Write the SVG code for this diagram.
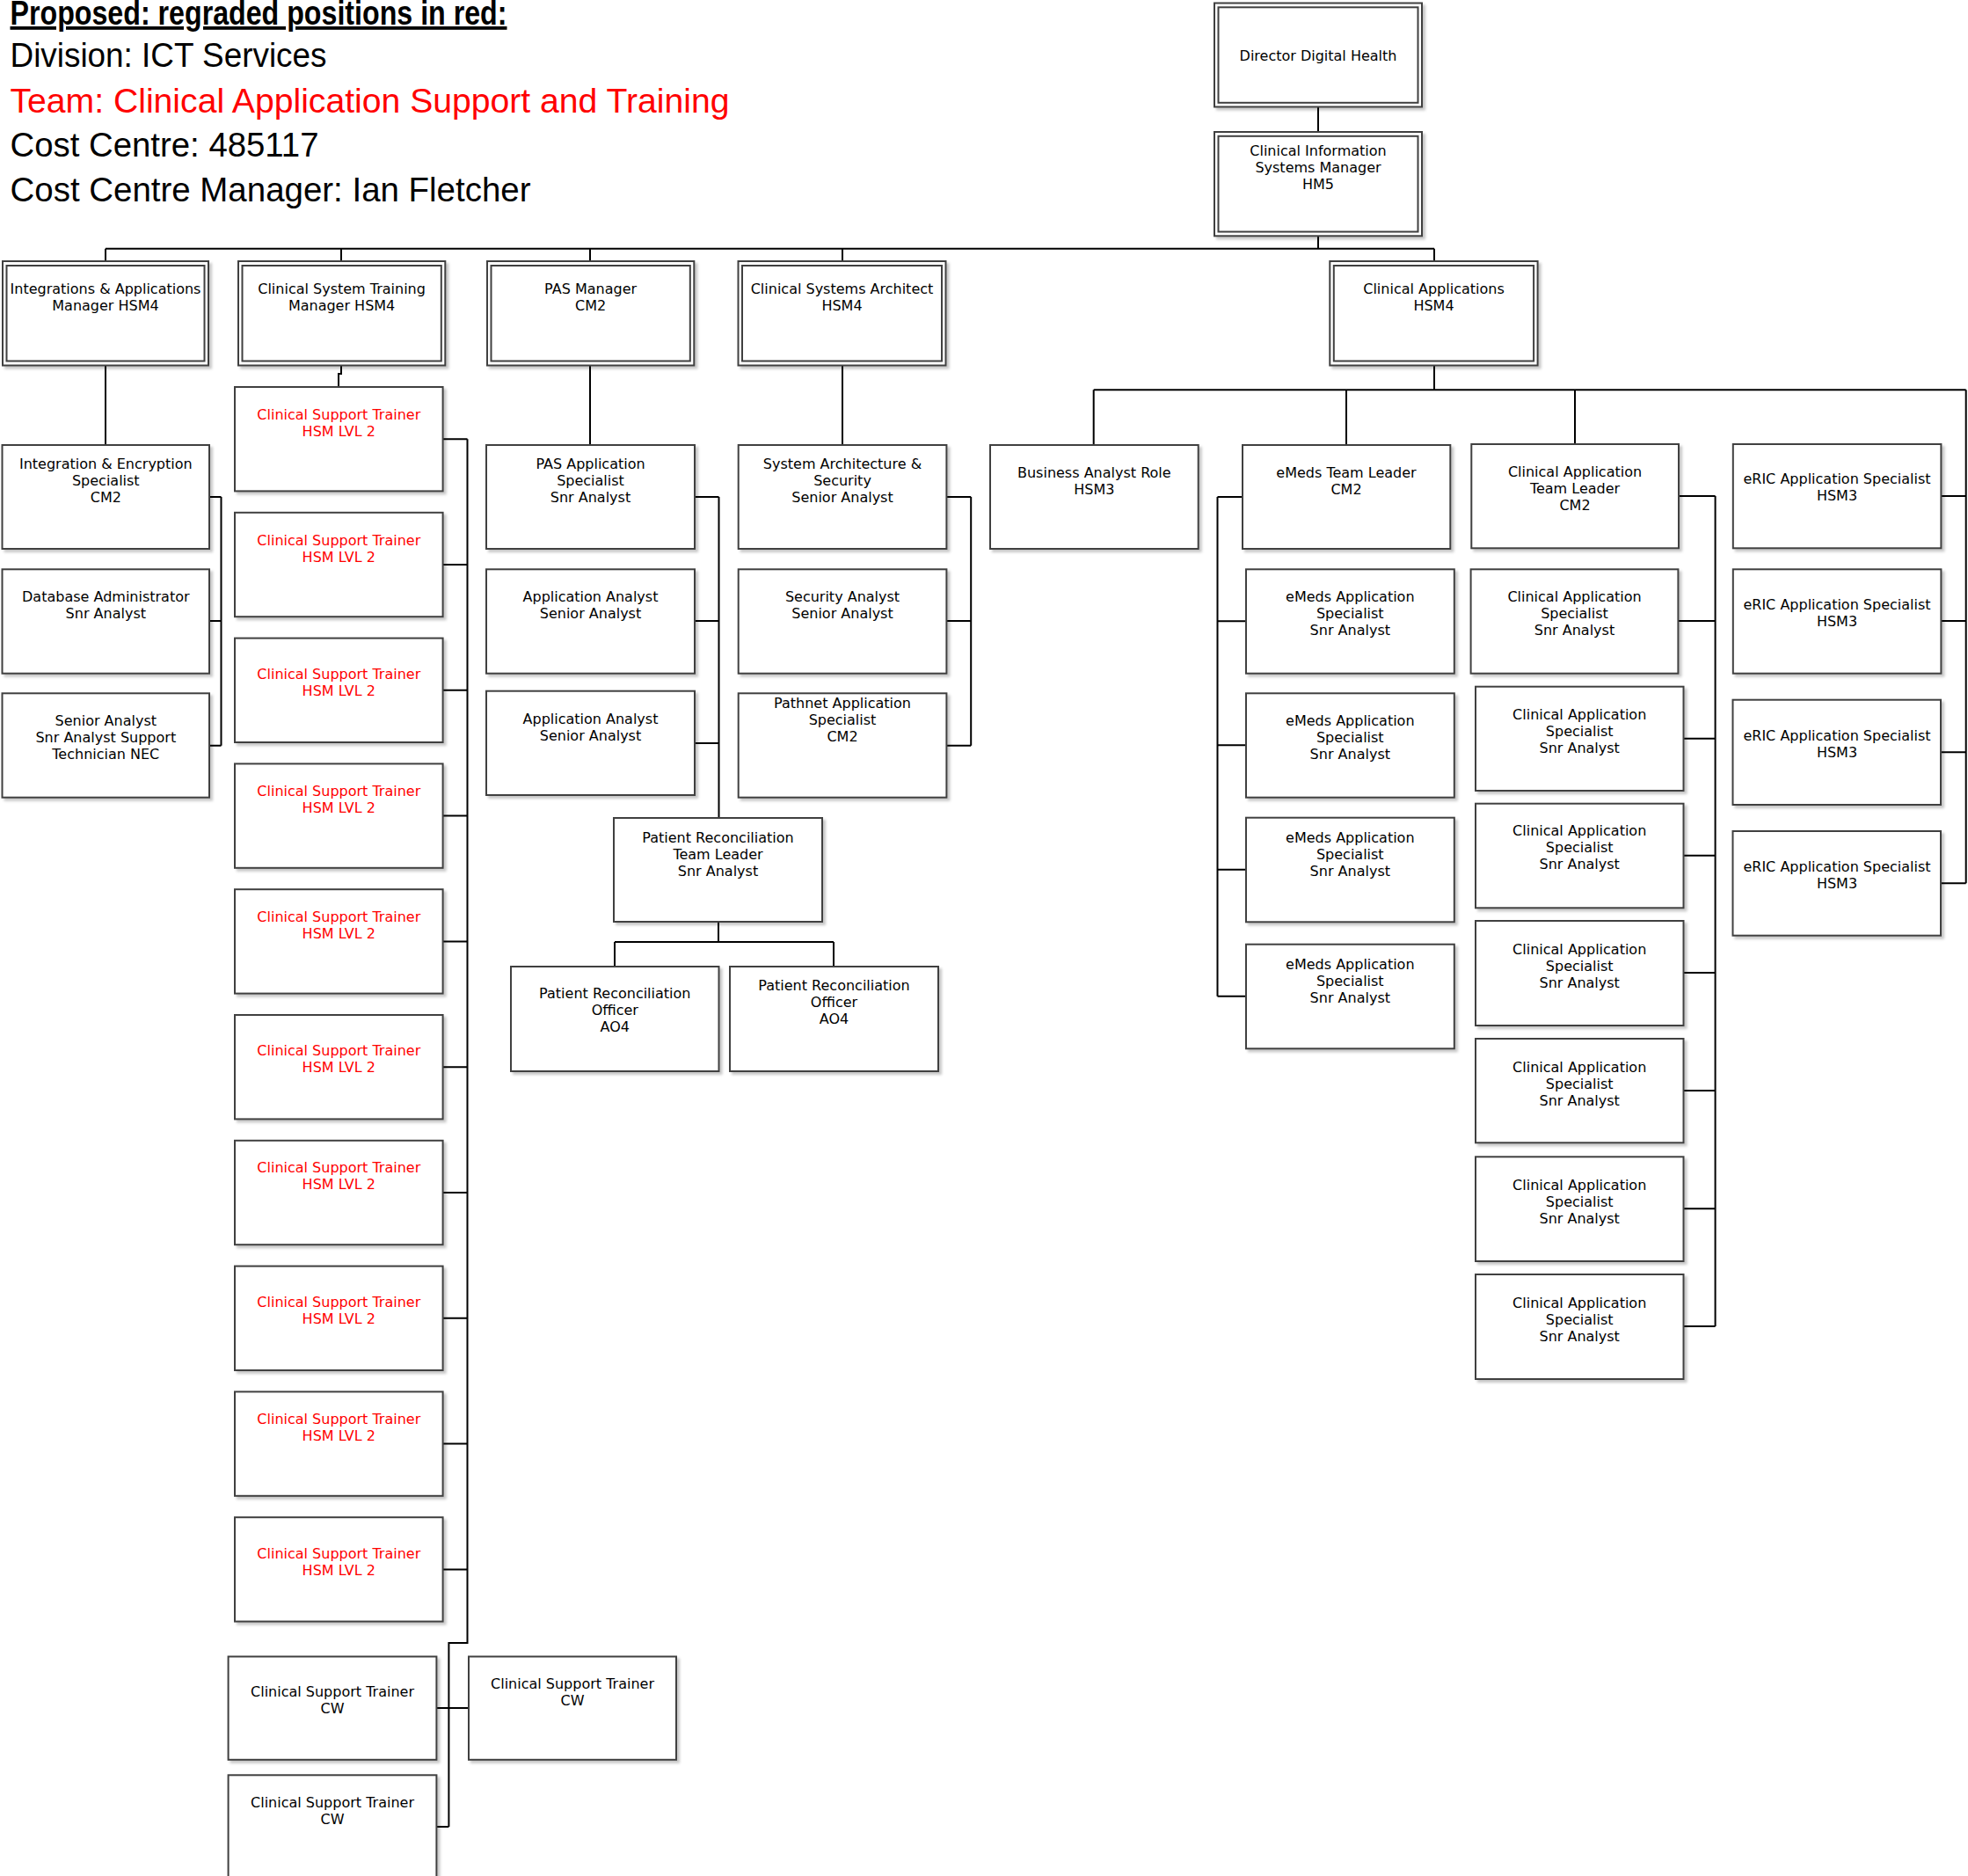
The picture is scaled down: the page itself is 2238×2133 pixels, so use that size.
<svg xmlns="http://www.w3.org/2000/svg" width="2238" height="2133" viewBox="0 0 2238 2133">
<defs>
<filter id="sh" x="-5%" y="-5%" width="115%" height="115%"><feDropShadow dx="3" dy="3" stdDeviation="1.5" flood-color="#000" flood-opacity="0.22"/></filter>
<style>
.bx{fill:#fff;stroke:#404040;stroke-width:2;filter:url(#sh)}
.in{fill:none;stroke:#404040;stroke-width:2}
.t{font-family:"DejaVu Sans",Verdana,sans-serif;font-size:16px;text-anchor:middle;fill:#000}
.r{fill:#ff0000}
.cn{fill:none;stroke:#000;stroke-width:2}
.h{font-family:"Liberation Sans",Arial,sans-serif;font-size:38px;fill:#000}
</style>
</defs>
<rect width="2238" height="2133" fill="#fff"/>
<g id="header">
<text class="h" x="11.5" y="28" font-weight="bold" text-decoration="underline" textLength="565" lengthAdjust="spacingAndGlyphs">Proposed: regraded positions in red:</text>
<text class="h" x="11.5" y="76" textLength="360" lengthAdjust="spacingAndGlyphs">Division: ICT Services</text>
<text class="h" x="11.5" y="127.7" textLength="818" lengthAdjust="spacingAndGlyphs" fill="#ff0000" style="fill:#ff0000">Team: Clinical Application Support and Training</text>
<text class="h" x="11.5" y="178.3" textLength="351" lengthAdjust="spacingAndGlyphs">Cost Centre: 485117</text>
<text class="h" x="11.5" y="229.3" textLength="592" lengthAdjust="spacingAndGlyphs">Cost Centre Manager: Ian Fletcher</text>
</g>
<g id="connectors">
<path class="cn" d="M1499,121.7V150M1499,268.3V282.7M120,282.7H1631M120,282.7V297M388,282.7V297M671,282.7V297M958,282.7V297M1631,282.7V297"/>
<path class="cn" d="M120,416V506M238,565H251.5M238,706H251.5M238,847.7H251.5M251.5,565V847.7"/>
<path class="cn" d="M388,416V425H385V440"/>
<path class="cn" d="M503.6,499.2H531.5M503.6,642H531.5M503.6,784.8H531.5M503.6,927.6H531.5M503.6,1070.4H531.5M503.6,1213.2H531.5M503.6,1356H531.5M503.6,1498.8H531.5M503.6,1641.6H531.5M503.6,1784.4H531.5M531.5,499.2V1868H510.4V2077M496.4,1942H533M496.4,2077H510.4"/>
<path class="cn" d="M671,416V506M790,565H817.5M790,706H817.5M790,845H817.5M817.5,565V930M817,1048V1071M699,1071H948M699,1071V1099M948,1071V1099"/>
<path class="cn" d="M958,416V506M1076.4,565H1104.2M1076.4,706H1104.2M1076.4,847.7H1104.2M1104.2,565V847.7"/>
<path class="cn" d="M1631,416V443.3M1243.7,443.3H2235.7M1243.7,443.3V506M1531,443.3V506M1791,443.3V505M2235.7,443.3V1004.3"/>
<path class="cn" d="M1384.5,565V1132.7M1384.5,565H1413M1384.5,706.3H1417M1384.5,847.3H1417M1384.5,988.7H1417M1384.5,1132.7H1417"/>
<path class="cn" d="M1950.6,564V1508M1909,564H1950.6M1908.4,706H1950.6M1914,839.7H1950.6M1914,972.7H1950.6M1914,1106H1950.6M1914,1240H1950.6M1914,1374.3H1950.6M1914,1508H1950.6"/>
<path class="cn" d="M2207,564H2235.7M2207,706H2235.7M2207,855.3H2235.7M2207,1004.3H2235.7"/>
</g>
<g id="director"><rect class="bx" x="1381" y="3.5" width="236" height="118"/><rect class="in" x="1385.5" y="8.3" width="227" height="108.5"/><text class="t" x="1499" y="68.7">Director Digital Health</text></g>
<g id="cism"><rect class="bx" x="1381" y="150" width="236" height="118.3"/><rect class="in" x="1385.5" y="154.8" width="227" height="108.7"/><text class="t" x="1499" y="176.7"><tspan x="1499">Clinical Information</tspan><tspan x="1499" dy="19.3">Systems Manager</tspan><tspan x="1499" dy="19.3">HM5</tspan></text></g>
<g id="iam"><rect class="bx" x="3" y="297" width="234" height="118.5"/><rect class="in" x="7.5" y="302" width="225" height="108.5"/><text class="t" x="120" y="334"><tspan x="120">Integrations &amp; Applications</tspan><tspan x="120" dy="19">Manager HSM4</tspan></text></g>
<g id="cstm"><rect class="bx" x="271" y="297" width="235.3" height="118.5"/><rect class="in" x="275.5" y="302" width="226.3" height="108.5"/><text class="t" x="388.6" y="334"><tspan x="388.6">Clinical System Training</tspan><tspan x="388.6" dy="19">Manager HSM4</tspan></text></g>
<g id="pasm"><rect class="bx" x="554" y="297" width="235.3" height="118.5"/><rect class="in" x="558.5" y="302" width="226.3" height="108.5"/><text class="t" x="671.6" y="334"><tspan x="671.6">PAS Manager</tspan><tspan x="671.6" dy="19">CM2</tspan></text></g>
<g id="csa"><rect class="bx" x="839.5" y="297" width="236" height="118.5"/><rect class="in" x="844" y="302" width="227" height="108.5"/><text class="t" x="957.5" y="334"><tspan x="957.5">Clinical Systems Architect</tspan><tspan x="957.5" dy="19">HSM4</tspan></text></g>
<g id="capps"><rect class="bx" x="1512.3" y="297" width="236.3" height="118.5"/><rect class="in" x="1516.8" y="302" width="227.3" height="108.5"/><text class="t" x="1630.5" y="334"><tspan x="1630.5">Clinical Applications</tspan><tspan x="1630.5" dy="19">HSM4</tspan></text></g>
<g id="iesp"><rect class="bx" x="2.5" y="506" width="235.5" height="118"/><text class="t" x="120.3" y="532.7"><tspan x="120.3">Integration &amp; Encryption</tspan><tspan x="120.3" dy="19">Specialist</tspan><tspan x="120.3" dy="19">CM2</tspan></text></g>
<g id="dba"><rect class="bx" x="2.5" y="647.3" width="235.5" height="118.4"/><text class="t" x="120.3" y="683.7"><tspan x="120.3">Database Administrator</tspan><tspan x="120.3" dy="19">Snr Analyst</tspan></text></g>
<g id="sa"><rect class="bx" x="2.5" y="788.3" width="235.5" height="118.4"/><text class="t" x="120.3" y="825.3"><tspan x="120.3">Senior Analyst</tspan><tspan x="120.3" dy="19">Snr Analyst Support</tspan><tspan x="120.3" dy="19">Technician NEC</tspan></text></g>
<g id="cst1"><rect class="bx" x="267" y="440" width="236.6" height="118.4"/><text class="t r" x="385.3" y="476.7"><tspan x="385.3">Clinical Support Trainer</tspan><tspan x="385.3" dy="19">HSM LVL 2</tspan></text></g>
<g id="cst2"><rect class="bx" x="267" y="582.8" width="236.6" height="118.4"/><text class="t r" x="385.3" y="619.5"><tspan x="385.3">Clinical Support Trainer</tspan><tspan x="385.3" dy="19">HSM LVL 2</tspan></text></g>
<g id="cst3"><rect class="bx" x="267" y="725.6" width="236.6" height="118.4"/><text class="t r" x="385.3" y="772.3"><tspan x="385.3">Clinical Support Trainer</tspan><tspan x="385.3" dy="19">HSM LVL 2</tspan></text></g>
<g id="cst4"><rect class="bx" x="267" y="868.4" width="236.6" height="118.4"/><text class="t r" x="385.3" y="905.4"><tspan x="385.3">Clinical Support Trainer</tspan><tspan x="385.3" dy="19">HSM LVL 2</tspan></text></g>
<g id="cst5"><rect class="bx" x="267" y="1011.2" width="236.6" height="118.4"/><text class="t r" x="385.3" y="1048.2"><tspan x="385.3">Clinical Support Trainer</tspan><tspan x="385.3" dy="19">HSM LVL 2</tspan></text></g>
<g id="cst6"><rect class="bx" x="267" y="1154" width="236.6" height="118.4"/><text class="t r" x="385.3" y="1200.3"><tspan x="385.3">Clinical Support Trainer</tspan><tspan x="385.3" dy="19">HSM LVL 2</tspan></text></g>
<g id="cst7"><rect class="bx" x="267" y="1296.8" width="236.6" height="118.4"/><text class="t r" x="385.3" y="1333.3"><tspan x="385.3">Clinical Support Trainer</tspan><tspan x="385.3" dy="19">HSM LVL 2</tspan></text></g>
<g id="cst8"><rect class="bx" x="267" y="1439.6" width="236.6" height="118.4"/><text class="t r" x="385.3" y="1486.3"><tspan x="385.3">Clinical Support Trainer</tspan><tspan x="385.3" dy="19">HSM LVL 2</tspan></text></g>
<g id="cst9"><rect class="bx" x="267" y="1582.4" width="236.6" height="118.4"/><text class="t r" x="385.3" y="1619.1"><tspan x="385.3">Clinical Support Trainer</tspan><tspan x="385.3" dy="19">HSM LVL 2</tspan></text></g>
<g id="cst10"><rect class="bx" x="267" y="1725.2" width="236.6" height="118.4"/><text class="t r" x="385.3" y="1772"><tspan x="385.3">Clinical Support Trainer</tspan><tspan x="385.3" dy="19">HSM LVL 2</tspan></text></g>
<g id="cw1"><rect class="bx" x="259.6" y="1883.5" width="236.8" height="117.3"/><text class="t" x="378" y="1929"><tspan x="378">Clinical Support Trainer</tspan><tspan x="378" dy="19">CW</tspan></text></g>
<g id="cw2"><rect class="bx" x="533" y="1883.5" width="236" height="117.3"/><text class="t" x="651" y="1919.6"><tspan x="651">Clinical Support Trainer</tspan><tspan x="651" dy="19">CW</tspan></text></g>
<g id="cw3"><rect class="bx" x="259.6" y="2018.3" width="236.8" height="118"/><text class="t" x="378" y="2055"><tspan x="378">Clinical Support Trainer</tspan><tspan x="378" dy="19">CW</tspan></text></g>
<g id="pasas"><rect class="bx" x="553" y="506" width="237" height="118"/><text class="t" x="671.5" y="532.7"><tspan x="671.5">PAS Application</tspan><tspan x="671.5" dy="19">Specialist</tspan><tspan x="671.5" dy="19">Snr Analyst</tspan></text></g>
<g id="aa1"><rect class="bx" x="553" y="647.3" width="237" height="118.4"/><text class="t" x="671.5" y="683.7"><tspan x="671.5">Application Analyst</tspan><tspan x="671.5" dy="19">Senior Analyst</tspan></text></g>
<g id="aa2"><rect class="bx" x="553" y="785.7" width="237" height="118.3"/><text class="t" x="671.5" y="822.7"><tspan x="671.5">Application Analyst</tspan><tspan x="671.5" dy="19">Senior Analyst</tspan></text></g>
<g id="prtl"><rect class="bx" x="698" y="930" width="237" height="118"/><text class="t" x="816.5" y="957.7"><tspan x="816.5">Patient Reconciliation</tspan><tspan x="816.5" dy="19">Team Leader</tspan><tspan x="816.5" dy="19">Snr Analyst</tspan></text></g>
<g id="pro1"><rect class="bx" x="581" y="1099" width="236.5" height="119"/><text class="t" x="699.3" y="1135.3"><tspan x="699.3">Patient Reconciliation</tspan><tspan x="699.3" dy="19">Officer</tspan><tspan x="699.3" dy="19">AO4</tspan></text></g>
<g id="pro2"><rect class="bx" x="830" y="1099" width="237" height="119"/><text class="t" x="948.5" y="1126"><tspan x="948.5">Patient Reconciliation</tspan><tspan x="948.5" dy="19">Officer</tspan><tspan x="948.5" dy="19">AO4</tspan></text></g>
<g id="sas"><rect class="bx" x="839.7" y="506" width="236.7" height="118"/><text class="t" x="958" y="532.7"><tspan x="958">System Architecture &amp;</tspan><tspan x="958" dy="19">Security</tspan><tspan x="958" dy="19">Senior Analyst</tspan></text></g>
<g id="sec"><rect class="bx" x="839.7" y="647.3" width="236.7" height="118.4"/><text class="t" x="958" y="683.7"><tspan x="958">Security Analyst</tspan><tspan x="958" dy="19">Senior Analyst</tspan></text></g>
<g id="path"><rect class="bx" x="839.7" y="788.3" width="236.7" height="118.4"/><text class="t" x="958" y="805.3"><tspan x="958">Pathnet Application</tspan><tspan x="958" dy="19">Specialist</tspan><tspan x="958" dy="19">CM2</tspan></text></g>
<g id="ba"><rect class="bx" x="1126" y="506" width="236.7" height="118"/><text class="t" x="1244.3" y="542.7"><tspan x="1244.3">Business Analyst Role</tspan><tspan x="1244.3" dy="19">HSM3</tspan></text></g>
<g id="emtl"><rect class="bx" x="1413" y="506" width="236.3" height="118"/><text class="t" x="1531" y="542.7"><tspan x="1531">eMeds Team Leader</tspan><tspan x="1531" dy="19">CM2</tspan></text></g>
<g id="catl"><rect class="bx" x="1673.3" y="505" width="235.7" height="118.3"/><text class="t" x="1791" y="541.7"><tspan x="1791">Clinical Application</tspan><tspan x="1791" dy="19">Team Leader</tspan><tspan x="1791" dy="19">CM2</tspan></text></g>
<g id="eric1"><rect class="bx" x="1970.8" y="505" width="236.6" height="118.3"/><text class="t" x="2089" y="550.3"><tspan x="2089">eRIC Application Specialist</tspan><tspan x="2089" dy="19">HSM3</tspan></text></g>
<g id="eric2"><rect class="bx" x="1970.8" y="647.3" width="236.6" height="118.4"/><text class="t" x="2089" y="693.3"><tspan x="2089">eRIC Application Specialist</tspan><tspan x="2089" dy="19">HSM3</tspan></text></g>
<g id="eric3"><rect class="bx" x="1970.5" y="795.7" width="236.5" height="119.3"/><text class="t" x="2089" y="842.3"><tspan x="2089">eRIC Application Specialist</tspan><tspan x="2089" dy="19">HSM3</tspan></text></g>
<g id="eric4"><rect class="bx" x="1970.5" y="945" width="236.5" height="118.7"/><text class="t" x="2089" y="991"><tspan x="2089">eRIC Application Specialist</tspan><tspan x="2089" dy="19">HSM3</tspan></text></g>
<g id="ems1"><rect class="bx" x="1417" y="647.3" width="236.8" height="118.4"/><text class="t" x="1535.3" y="683.7"><tspan x="1535.3">eMeds Application</tspan><tspan x="1535.3" dy="19">Specialist</tspan><tspan x="1535.3" dy="19">Snr Analyst</tspan></text></g>
<g id="ems2"><rect class="bx" x="1417" y="788.3" width="236.8" height="118.4"/><text class="t" x="1535.3" y="825.3"><tspan x="1535.3">eMeds Application</tspan><tspan x="1535.3" dy="19">Specialist</tspan><tspan x="1535.3" dy="19">Snr Analyst</tspan></text></g>
<g id="ems3"><rect class="bx" x="1417" y="929.7" width="236.8" height="118.6"/><text class="t" x="1535.3" y="957.7"><tspan x="1535.3">eMeds Application</tspan><tspan x="1535.3" dy="19">Specialist</tspan><tspan x="1535.3" dy="19">Snr Analyst</tspan></text></g>
<g id="ems4"><rect class="bx" x="1417" y="1073.7" width="236.8" height="118.6"/><text class="t" x="1535.3" y="1101.7"><tspan x="1535.3">eMeds Application</tspan><tspan x="1535.3" dy="19">Specialist</tspan><tspan x="1535.3" dy="19">Snr Analyst</tspan></text></g>
<g id="cas1"><rect class="bx" x="1672.6" y="647.3" width="235.8" height="118.4"/><text class="t" x="1790.5" y="683.7"><tspan x="1790.5">Clinical Application</tspan><tspan x="1790.5" dy="19">Specialist</tspan><tspan x="1790.5" dy="19">Snr Analyst</tspan></text></g>
<g id="cas2"><rect class="bx" x="1678" y="780.7" width="236.5" height="118.3"/><text class="t" x="1796.2" y="817.7"><tspan x="1796.2">Clinical Application</tspan><tspan x="1796.2" dy="19">Specialist</tspan><tspan x="1796.2" dy="19">Snr Analyst</tspan></text></g>
<g id="cas3"><rect class="bx" x="1678" y="913.7" width="236.5" height="118.6"/><text class="t" x="1796.2" y="950.3"><tspan x="1796.2">Clinical Application</tspan><tspan x="1796.2" dy="19">Specialist</tspan><tspan x="1796.2" dy="19">Snr Analyst</tspan></text></g>
<g id="cas4"><rect class="bx" x="1678" y="1047" width="236.5" height="119"/><text class="t" x="1796.2" y="1084.7"><tspan x="1796.2">Clinical Application</tspan><tspan x="1796.2" dy="19">Specialist</tspan><tspan x="1796.2" dy="19">Snr Analyst</tspan></text></g>
<g id="cas5"><rect class="bx" x="1678" y="1181" width="236.5" height="118.3"/><text class="t" x="1796.2" y="1218.7"><tspan x="1796.2">Clinical Application</tspan><tspan x="1796.2" dy="19">Specialist</tspan><tspan x="1796.2" dy="19">Snr Analyst</tspan></text></g>
<g id="cas6"><rect class="bx" x="1678" y="1315.3" width="236.5" height="118.7"/><text class="t" x="1796.2" y="1352.7"><tspan x="1796.2">Clinical Application</tspan><tspan x="1796.2" dy="19">Specialist</tspan><tspan x="1796.2" dy="19">Snr Analyst</tspan></text></g>
<g id="cas7"><rect class="bx" x="1678" y="1449" width="236.5" height="119"/><text class="t" x="1796.2" y="1486.7"><tspan x="1796.2">Clinical Application</tspan><tspan x="1796.2" dy="19">Specialist</tspan><tspan x="1796.2" dy="19">Snr Analyst</tspan></text></g>
</svg>
